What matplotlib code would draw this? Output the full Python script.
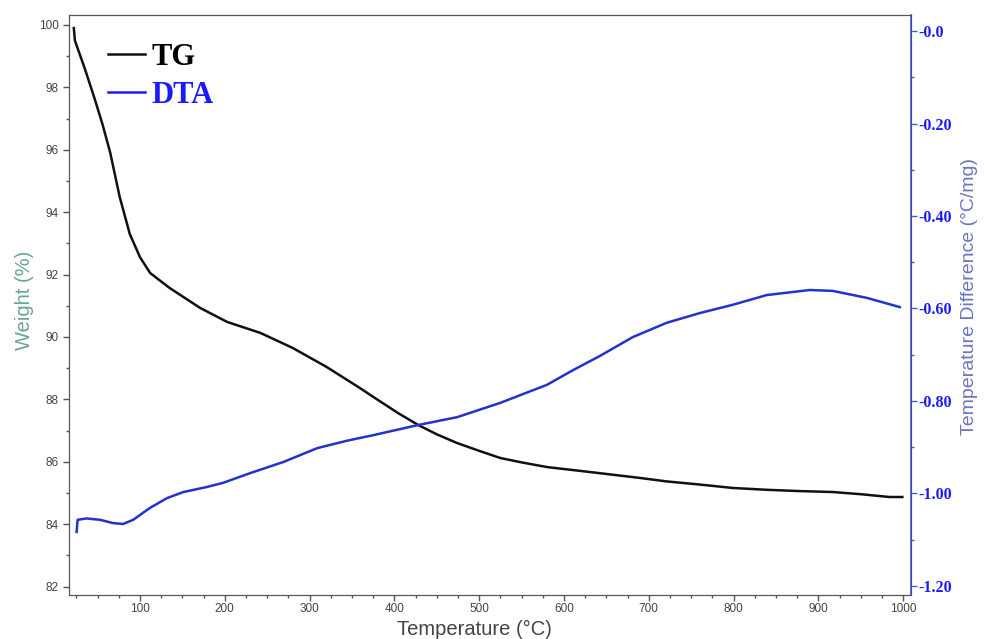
import numpy as np
import matplotlib.pyplot as plt
from matplotlib.ticker import MultipleLocator, FixedLocator, FixedFormatter

# TG curve (weight %)
tg_temp = [22, 23.3, 35, 47, 56, 65, 76, 88, 100, 112, 135, 171, 203, 242, 280,
           320, 359, 375, 405, 428, 450, 474, 500, 525, 550, 580, 631, 690, 721,
           760, 799, 840, 878, 917, 950, 984, 999]
tg_weight = [99.9, 99.5, 98.6, 97.6, 96.8, 95.9, 94.5, 93.3, 92.56, 92.05, 91.57,
             90.93, 90.48, 90.13, 89.65, 89.04, 88.37, 88.08, 87.55, 87.18, 86.88,
             86.6, 86.35, 86.12, 85.98, 85.83, 85.67, 85.48, 85.37, 85.27, 85.16,
             85.1, 85.06, 85.03, 84.96, 84.87, 84.87]

# DTA curve (°C/mg)
dta_temp = [25.3, 26.5, 37, 53, 68, 80, 92, 112, 132, 151, 179, 198, 230, 269,
            309, 344, 375, 428, 474, 525, 580, 611, 642, 681, 721, 760, 799, 839,
            890, 917, 957, 996]
dta_val = [-1.083, -1.057, -1.054, -1.057, -1.064, -1.066, -1.057, -1.031, -1.010,
           -0.997, -0.986, -0.977, -0.956, -0.932, -0.902, -0.886, -0.874, -0.852,
           -0.835, -0.804, -0.765, -0.733, -0.703, -0.662, -0.631, -0.610, -0.592,
           -0.571, -0.560, -0.562, -0.577, -0.597]

right_ticks = [0.0, -0.2, -0.4, -0.6, -0.8, -1.0, -1.2]
right_labels = ['-0.0', '-0.20', '-0.40', '-0.60', '-0.80', '-1.00', '-1.20']

plt.rcParams['font.family'] = ['Liberation Sans', 'DejaVu Sans']

fig = plt.figure(figsize=(9.84, 6.39), dpi=100)
ax = fig.add_axes([0.0701, 0.0689, 0.8557, 0.9076])
ax2 = ax.twinx()

gray = '#555555'
blue = '#1a1aff'
axis_blue = '#4a5acb'

l1, = ax.plot(tg_temp, tg_weight, color='#111111', lw=1.8, label='TG')
l2, = ax2.plot(dta_temp, dta_val, color='#2233cc', lw=1.8, label='DTA')

ax.set_xlim(16.3, 1009.2)
ax.set_ylim(81.73, 100.32)
ax2.set_ylim(-1.2195, 0.0346)

ax.set_xticks(range(100, 1001, 100))
ax.xaxis.set_minor_locator(MultipleLocator(25))
ax.yaxis.set_major_locator(MultipleLocator(2))
ax.yaxis.set_minor_locator(MultipleLocator(1))
ax.tick_params(axis='both', which='major', direction='out', length=4, width=1,
               colors=gray, labelsize=8.5, labelcolor='#444444')
ax.tick_params(axis='both', which='minor', direction='out', length=2.5, width=1, colors=gray)
ax.tick_params(axis='y', which='both', right=False)
ax.tick_params(axis='x', pad=2)

ax2.yaxis.set_major_locator(FixedLocator(right_ticks))
ax2.yaxis.set_major_formatter(FixedFormatter(right_labels))
ax2.yaxis.set_minor_locator(MultipleLocator(0.1))
ax2.tick_params(axis='y', which='major', direction='out', length=4, width=1,
                colors=axis_blue, labelcolor=blue, pad=1)
ax2.tick_params(axis='y', which='minor', direction='out', length=2.5, width=1, colors=axis_blue)
for lab in ax2.get_yticklabels():
    lab.set_fontfamily('Liberation Serif')
    lab.set_fontweight('bold')
    lab.set_fontsize(11.5)

for sp in ['left', 'bottom', 'top']:
    ax.spines[sp].set_color(gray)
    ax2.spines[sp].set_color(gray)
ax2.spines['right'].set_color(axis_blue)
ax2.spines['right'].set_linewidth(1.2)

ax.set_xlabel('Temperature (°C)', fontsize=14.5, color='#444444')
ax.xaxis.set_label_coords(0.482, -0.043)
ax.set_ylabel('Weight (%)', fontsize=14.5, color='#6aa58e')
ax.yaxis.set_label_coords(-0.0414, 0.508)
ax2.set_ylabel('Temperature Difference (°C/mg)', fontsize=14, color='#6a76c0')
ax2.yaxis.set_label_coords(1.0597, 0.514)

ax.legend(handles=[l1, l2], loc='upper left', bbox_to_anchor=(0.014, 1.0),
          frameon=False, handlelength=1.2, handletextpad=0.2, labelspacing=0.3,
          prop={'family': 'Liberation Serif', 'weight': 'bold', 'size': 22},
          labelcolor=['black', blue])
leg = ax.get_legend()
leg.get_lines()[1].set_color(blue)

fig.savefig('out.png', dpi=100)
